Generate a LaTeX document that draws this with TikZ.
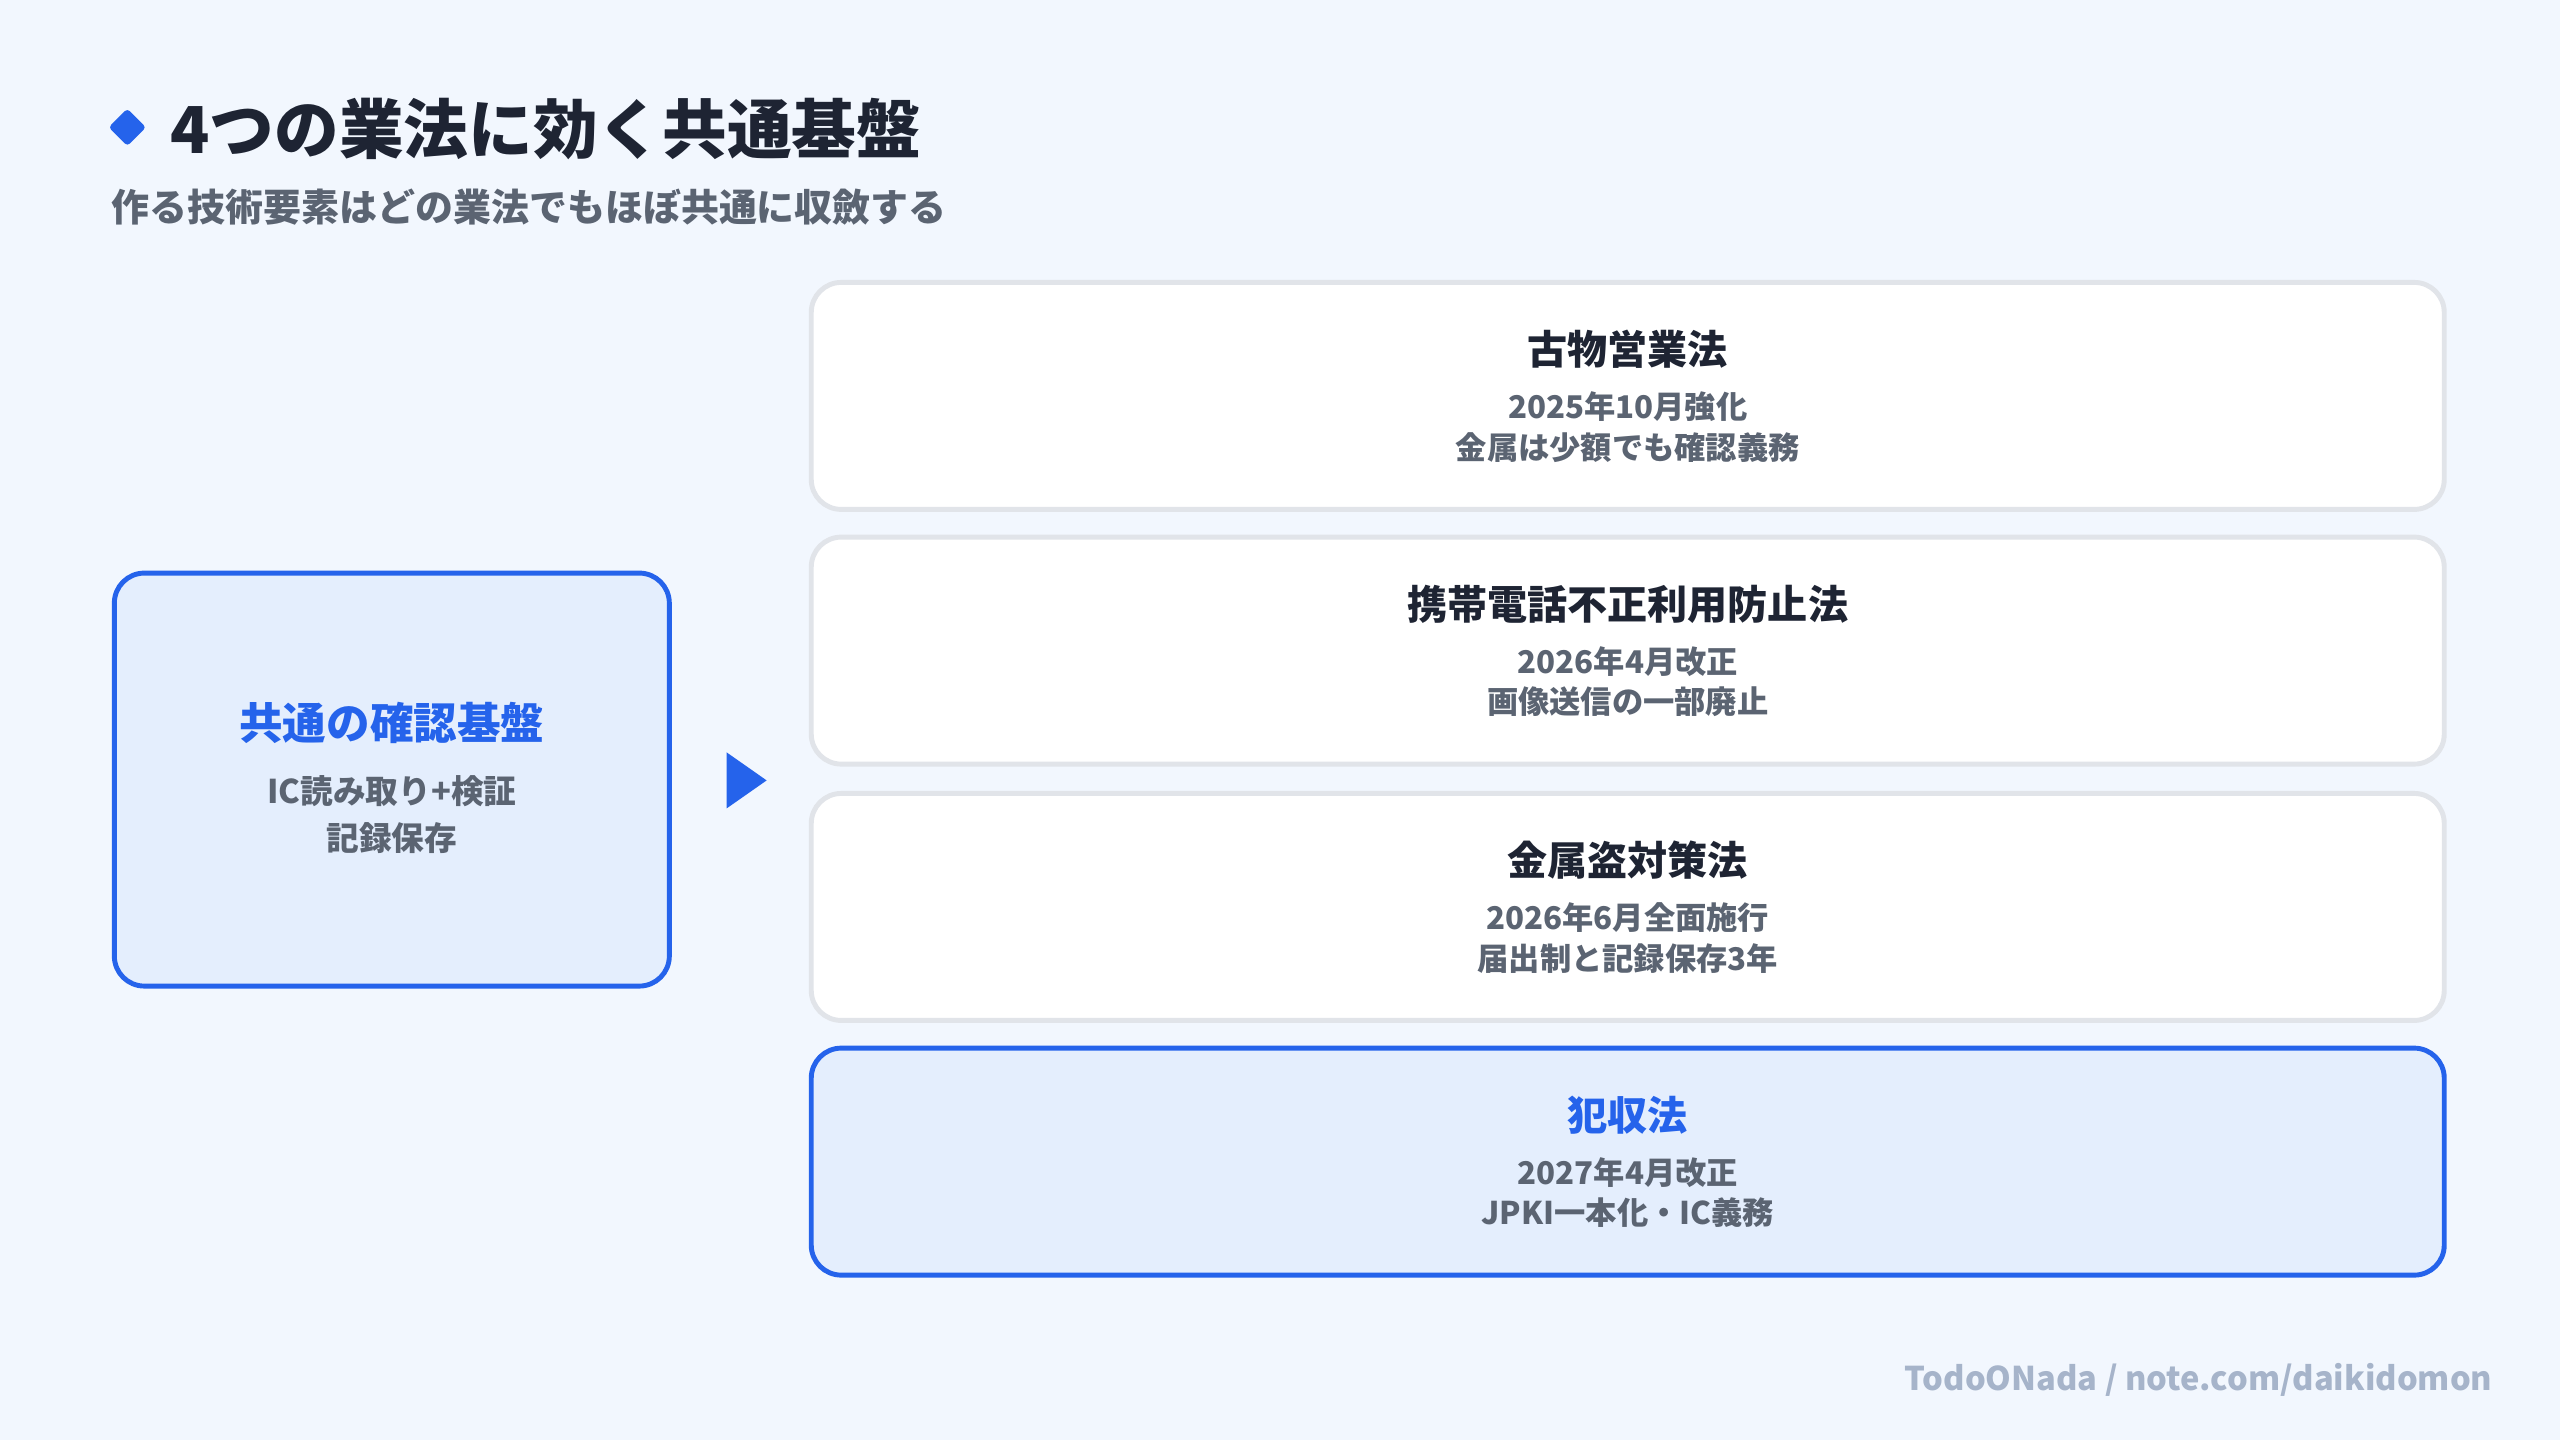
\documentclass[tikz,border=0pt]{standalone}
\usepackage{fontspec}
\setmainfont{Noto Sans CJK JP}
\usetikzlibrary{shapes.geometric, positioning}
\definecolor{bgblue}{HTML}{F2F7FE}
\definecolor{accent}{HTML}{2563EB}
\definecolor{paleblue}{HTML}{E4EEFD}
\definecolor{ink}{HTML}{1E2433}
\definecolor{slate}{HTML}{5B6472}
\definecolor{edge}{HTML}{E1E4E9}
\definecolor{faint}{HTML}{A6B4CA}
\tikzstyle{lawbox} = [rectangle, rounded corners=0.3cm, minimum width=16.33cm, minimum height=2.27cm, draw=edge, line width=1.4pt, fill=white]
\tikzstyle{keybox} = [lawbox, draw=accent, fill=paleblue]
\tikzstyle{boxtitle} = [font=\fontsize{11.4}{13}\selectfont\bfseries, text=ink]
\tikzstyle{boxnote} = [font=\fontsize{8.9}{11}\selectfont\bfseries, text=slate]
\begin{document}
\begin{tikzpicture}[x=0.01633cm, y=-0.01633cm]
\fill[bgblue] (0,0) rectangle (1568,882);
\useasboundingbox (0,0) rectangle (1568,882);

% heading
\node (bullet) [diamond, fill=accent, inner sep=0pt, minimum size=0.38cm, rounded corners=1pt] at (78,78) {};
\node (title) [anchor=west, font=\fontsize{18.4}{21}\selectfont\bfseries, text=ink, inner sep=0pt] at (104,79) {4つの業法に効く共通基盤};
\node (subtitle) [anchor=west, font=\fontsize{10.8}{13}\selectfont\bfseries, text=slate, inner sep=0pt] at (68,127) {作る技術要素はどの業法でもほぼ共通に収斂する};

% common base
\node (base) [keybox, minimum width=5.55cm, minimum height=4.13cm] at (240,477.5) {};
\node (basetitle) [boxtitle, text=accent, font=\fontsize{12.4}{14}\selectfont\bfseries] at (240,443) {共通の確認基盤};
\node (basenote) [boxnote, align=center, font=\fontsize{9.3}{13.5}\selectfont\bfseries] at (240,499) {IC読み取り+検証\\記録保存};
\node (pointer) [isosceles triangle, fill=accent, inner sep=0pt, minimum height=0.4cm, minimum width=0.54cm, isosceles triangle apex angle=70] at (454,478) {};

% laws
\node (kobutsu) [lawbox] at (997,242.5) {};
\node (kobutsutitle) [boxtitle] at (997,214) {古物営業法};
\node (kobutsudate) [boxnote] at (997,249) {2025年10月強化};
\node (kobutsunote) [boxnote] at (997,274) {金属は少額でも確認義務};

\node (keitai) [lawbox] at (997,398.5) {};
\node (keitaititle) [boxtitle] at (997,370) {携帯電話不正利用防止法};
\node (keitaidate) [boxnote] at (997,405) {2026年4月改正};
\node (keitainote) [boxnote] at (997,430) {画像送信の一部廃止};

\node (kinzoku) [lawbox] at (997,555.5) {};
\node (kinzokutitle) [boxtitle] at (997,527) {金属盗対策法};
\node (kinzokudate) [boxnote] at (997,562) {2026年6月全面施行};
\node (kinzokunote) [boxnote] at (997,587) {届出制と記録保存3年};

\node (hanshu) [keybox] at (997,711.5) {};
\node (hanshutitle) [boxtitle, text=accent] at (997,683) {犯収法};
\node (hanshudate) [boxnote] at (997,718) {2027年4月改正};
\node (hanshunote) [boxnote] at (997,743) {JPKI一本化・IC義務};

% footer
\node (credit) [anchor=east, font=\fontsize{9.3}{11}\selectfont\bfseries, text=faint, inner sep=0pt] at (1527,845) {TodoONada / note.com/daikidomon};
\end{tikzpicture}
\end{document}
